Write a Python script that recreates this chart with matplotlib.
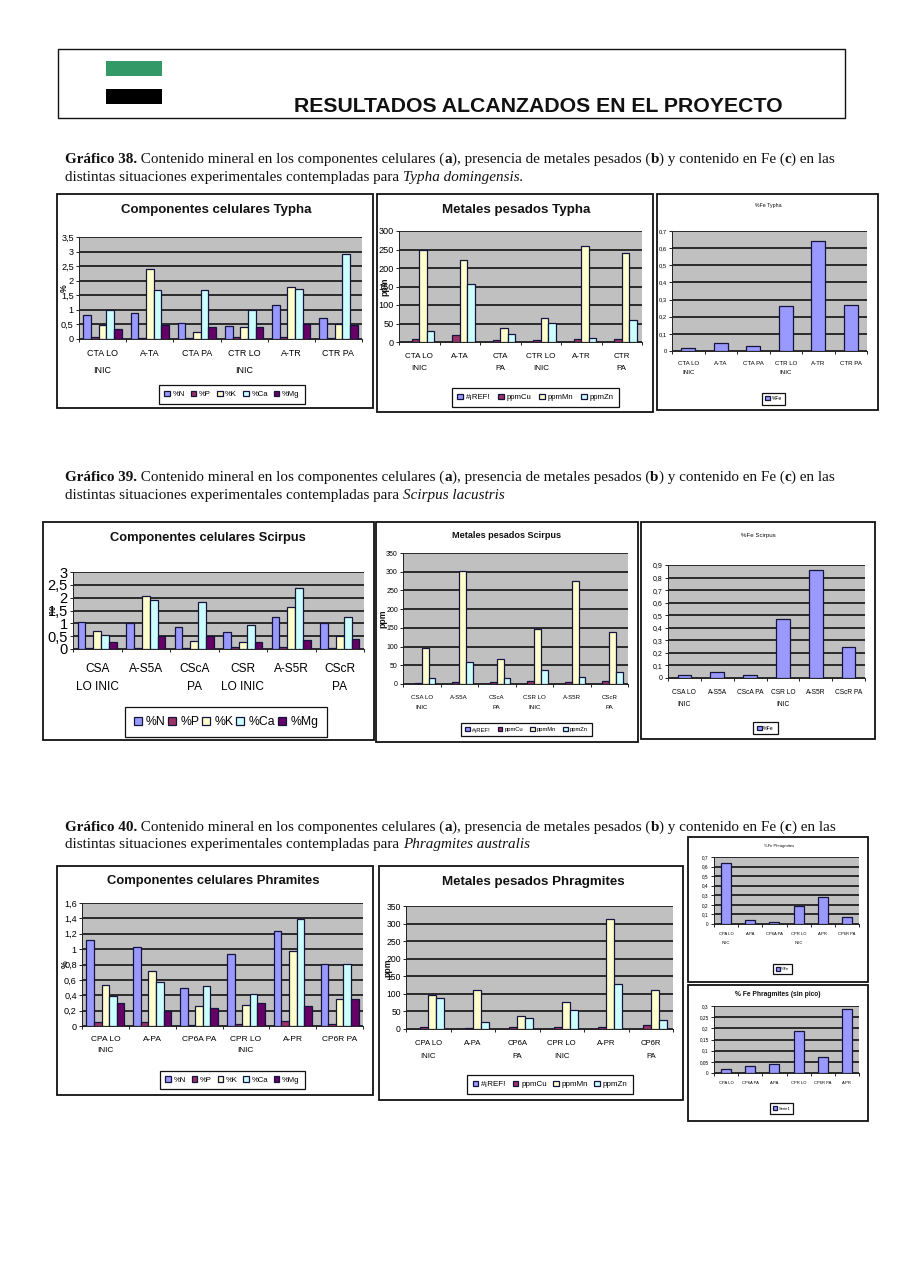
import matplotlib
matplotlib.use("Agg")
import matplotlib.pyplot as plt
import numpy as np
from matplotlib.patches import Rectangle
from matplotlib.ticker import FuncFormatter, MultipleLocator

W, H = 905, 1280
plt.rcParams['font.family'] = ['Liberation Sans', 'DejaVu Sans']

COMP_SERIES = ['%N', '%P', '%K', '%Ca', '%Mg']
METAL_SERIES = ['#¡REF!', 'ppmCu', 'ppmMn', 'ppmZn']
COLORS = {'%N': '#9999FF', '%P': '#993366', '%K': '#FFFFCC', '%Ca': '#CCFFFF', '%Mg': '#660066',
          '#¡REF!': '#9999FF', 'ppmCu': '#993366', 'ppmMn': '#FFFFCC', 'ppmZn': '#CCFFFF',
          '%Fe': '#9999FF', 'Serie1': '#9999FF'}

# Typha
typha_cats_a = ['CTA LO\nINIC', 'A-TA', 'CTA PA', 'CTR LO\nINIC', 'A-TR', 'CTR PA']
typha_cats_b = ['CTA LO\nINIC', 'A-TA', 'CTA\nPA', 'CTR LO\nINIC', 'A-TR', 'CTR\nPA']
typha_comp = [[.82, .90, .55, .43, 1.15, .73],
              [.08, .05, .05, .08, .08, .05],
              [.48, 2.40, .23, .40, 1.80, .50],
              [1.00, 1.67, 1.67, 1.00, 1.72, 2.93],
              [.35, .48, .40, .40, .50, .48]]
typha_metal = [[0, 0, 0, 0, 0, 0],
               [9, 18, 6, 6, 9, 9],
               [250, 222, 37, 66, 260, 241],
               [31, 158, 22, 52, 12, 60]]
typha_fe = [[.015, .048, .027, .26, .64, .27]]

# Scirpus
scirpus_cats_a = ['CSA\nLO INIC', 'A-S5A', 'CScA\nPA', 'CSR\nLO INIC', 'A-S5R', 'CScR\nPA']
scirpus_cats_b = ['CSA LO\nINIC', 'A-S5A', 'CScA\nPA', 'CSR LO\nINIC', 'A-S5R', 'CScR\nPA']
scirpus_cats_c = ['CSA LO\nINIC', 'A-S5A', 'CScA PA', 'CSR LO\nINIC', 'A-S5R', 'CScR PA']
scirpus_comp = [[1.07, 1.00, .85, .67, 1.23, 1.00],
                [.05, .05, .05, .08, .08, .05],
                [.72, 2.08, .32, .28, 1.62, .50],
                [.53, 1.90, 1.82, .92, 2.38, 1.23],
                [.28, .50, .50, .28, .37, .40]]
scirpus_metal = [[0, 0, 0, 0, 0, 0],
                 [3, 6, 6, 9, 6, 9],
                 [95, 302, 68, 147, 274, 138],
                 [16, 59, 16, 37, 19, 31]]
scirpus_fe = [[.02, .05, .02, .47, .86, .25]]

# Phragmites
phrag_cats_a = ['CPA LO\nINIC', 'A-PA', 'CP6A PA', 'CPR LO\nINIC', 'A-PR', 'CP6R PA']
phrag_cats_b = ['CPA LO\nINIC', 'A-PA', 'CP6A\nPA', 'CPR LO\nINIC', 'A-PR', 'CP6R\nPA']
phrag_cats_d = ['CPA LO', 'CP6A PA', 'A-PA', 'CPR LO', 'CP6R PA', 'A-PR']
phrag_comp = [[1.12, 1.03, .50, .94, 1.24, .81],
              [.05, .05, .015, .03, .06, .03],
              [.53, .72, .26, .27, .97, .35],
              [.39, .57, .52, .42, 1.39, .81],
              [.30, .20, .24, .30, .26, .35]]
phrag_metal = [[0, 0, 0, 0, 0, 0],
               [7, 4, 7, 7, 7, 10],
               [98, 110, 36, 78, 314, 110],
               [88, 20, 30, 55, 127, 27]]
phrag_fe = [[.64, .04, .025, .19, .28, .07]]
phrag_fe_nopeak = [[.02, .03, .04, .19, .07, .285]]

PANELS = [
    dict(box=(57, 194, 373, 408), plot=(79, 237, 362, 339), ymax=3.5, step=.5, cats=typha_cats_a, vals=typha_comp, series=COMP_SERIES,
         title='Componentes celulares Typha', tc=(216, 210), tfs=9.5, bold=True, tick=6.6, cat=6.4, ls=2.2, pad=7.0, leg=(159, 386, 305, 403), lfs=5.6, hp=5.5, ylab='%', ylx=64, width=.81),
    dict(box=(377, 194, 653, 412), plot=(399, 231, 642, 342), ymax=300, step=50, cats=typha_cats_b, vals=typha_metal, series=METAL_SERIES,
         title='Metales pesados Typha', tc=(516, 210), tfs=9.6, bold=True, tick=6.6, cat=5.8, ls=2.0, pad=8.0, leg=(452, 389, 619, 406), lfs=5.6, hp=5.5, ylab='ppm', ylx=385, width=.73),
    dict(box=(657, 194, 878, 410), plot=(672, 231, 867, 351), ymax=.7, step=.1, cats=typha_cats_a, vals=typha_fe, series=['%Fe'],
         title='%Fe Typha', tc=(768, 206), tfs=3.8, bold=False, tick=4.2, cat=4.4, ls=2.1, pad=7.2, leg=(759, 391, 788, 406), lfs=3.6, hp=4.5, ylab=None, ylx=0, width=.42),
    dict(box=(43, 522, 374, 740), plot=(73, 572, 364, 649), ymax=3, step=.5, cats=scirpus_cats_a, vals=scirpus_comp, series=COMP_SERIES,
         title='Componentes celulares Scirpus', tc=(208, 538), tfs=9.3, bold=True, tick=10.5, cat=8.6, ls=1.63, pad=10.0, leg=(125, 710, 327, 734), lfs=8.8, hp=8, ylab='%', ylx=53, width=.81),
    dict(box=(376, 522, 638, 742), plot=(403, 553, 628, 684), ymax=350, step=50, cats=scirpus_cats_b, vals=scirpus_metal, series=METAL_SERIES,
         title='Metales pesados Scirpus', tc=(507, 535), tfs=6.6, bold=True, tick=5.0, cat=4.4, ls=2.1, pad=8.0, leg=(461, 722, 592, 737), lfs=4.2, hp=4.5, ylab='ppm', ylx=383, width=.73),
    dict(box=(641, 522, 875, 739), plot=(668, 565, 865, 678), ymax=.9, step=.1, cats=scirpus_cats_c, vals=scirpus_fe, series=['%Fe'],
         title='%Fe Scirpus', tc=(758, 535), tfs=4.4, bold=False, tick=5.0, cat=4.8, ls=1.9, pad=8.0, leg=(752, 721, 779, 735), lfs=3.8, hp=4.5, ylab=None, ylx=0, width=.42),
    dict(box=(57, 866, 373, 1095), plot=(82, 903, 363, 1026), ymax=1.6, step=.2, cats=phrag_cats_a, vals=phrag_comp, series=COMP_SERIES,
         title='Componentes celulares Phramites', tc=(213, 881), tfs=9.4, bold=True, tick=6.6, cat=6.0, ls=1.9, pad=7.2, leg=(160, 1072, 305, 1088), lfs=5.6, hp=5.5, ylab='%', ylx=65, width=.81),
    dict(box=(379, 866, 683, 1100), plot=(406, 906, 673, 1029), ymax=350, step=50, cats=phrag_cats_b, vals=phrag_metal, series=METAL_SERIES,
         title='Metales pesados Phragmites', tc=(533, 882), tfs=9.6, bold=True, tick=6.2, cat=5.6, ls=2.1, pad=8.0, leg=(467, 1076, 633, 1093), lfs=5.8, hp=5.5, ylab='ppm', ylx=388, width=.73),
    dict(box=(688, 837, 868, 982), plot=(714, 857, 859, 924), ymax=.7, step=.1, cats=phrag_cats_a, vals=phrag_fe, series=['%Fe'],
         title='%Fe Phragmites', tc=(779, 846), tfs=3.0, bold=False, tick=3.4, cat=3.0, ls=2.4, pad=6.0, leg=(771, 962, 794, 976), lfs=3.0, hp=4, ylab=None, ylx=0, width=.42),
    dict(box=(688, 985, 868, 1121), plot=(714, 1006, 859, 1073), ymax=.3, step=.05, cats=phrag_cats_d, vals=phrag_fe_nopeak, series=['Serie1'],
         title='% Fe Phragmites (sin pico)', tc=(778, 995), tfs=4.8, bold=True, tick=3.4, cat=3.0, ls=1.9, pad=6.0, leg=(768, 1101, 795, 1116), lfs=3.0, hp=4, ylab=None, ylx=0, width=.42),
]

CAPTION_HEAD = [(' Contenido mineral en los componentes celulares (', 'normal', 'normal'), ('a', 'bold', 'normal'),
                ('), presencia de metales pesados (', 'normal', 'normal'), ('b', 'bold', 'normal'),
                (') y contenido en Fe (', 'normal', 'normal'), ('c', 'bold', 'normal'), (') en las', 'normal', 'normal')]
CAPTION_TAIL = 'distintas situaciones experimentales contempladas para '
CAPTIONS = [
    (163, [('Gráfico 38.', 'bold', 'normal')] + CAPTION_HEAD),
    (181, [(CAPTION_TAIL, 'normal', 'normal'), ('Typha domingensis.', 'normal', 'italic')]),
    (481, [('Gráfico 39.', 'bold', 'normal')] + CAPTION_HEAD),
    (499, [(CAPTION_TAIL, 'normal', 'normal'), ('Scirpus lacustris', 'normal', 'italic')]),
    (831, [('Gráfico 40.', 'bold', 'normal')] + CAPTION_HEAD),
    (848, [(CAPTION_TAIL, 'normal', 'normal'), ('Phragmites australis', 'normal', 'italic')]),
]
CAPTION_FS = 10.88

fig = plt.figure(figsize=(W / 100, H / 100), dpi=100, facecolor='white')
page = fig.add_axes([0, 0, 1, 1], zorder=0)
page.set_xlim(0, W)
page.set_ylim(H, 0)
page.axis('off')


def comma(v, _pos=None):
    return f'{round(v, 3):g}'.replace('.', ',')


def draw_panel(p):
    x0, y0, x1, y1 = p['box']
    page.add_patch(Rectangle((x0, y0), x1 - x0, y1 - y0, fc='white', ec='#111111', lw=1.3))
    px0, py0, px1, py1 = p['plot']
    pw, ph = px1 - px0, py1 - py0
    ax = fig.add_axes([px0 / W, 1 - py1 / H, pw / W, ph / H], zorder=2, facecolor='#C0C0C0')
    n_cat = len(p['cats'])
    n_ser = len(p['series'])
    bw = p['width'] / n_ser
    xpos = np.arange(n_cat)
    for i, (name, vals) in enumerate(zip(p['series'], p['vals'])):
        off = (i - (n_ser - 1) / 2) * bw
        ax.bar(xpos + off, vals, bw, color=COLORS[name], edgecolor='#14143c', linewidth=.9, zorder=3, label=name)
    ax.set_xlim(-.5, n_cat - .5)
    ax.set_ylim(0, p['ymax'])
    ax.yaxis.set_major_locator(MultipleLocator(p['step']))
    ax.yaxis.set_major_formatter(FuncFormatter(comma))
    ax.grid(axis='y', color='#111111', lw=1.2, zorder=1)
    ax.set_axisbelow(True)
    ax.set_xticks(np.arange(n_cat + 1) - .5)
    ax.set_xticklabels([])
    ax.set_xticks(xpos, minor=True)
    ax.set_xticklabels(p['cats'], minor=True, fontsize=p['cat'], linespacing=p['ls'], va='top')
    ax.tick_params(axis='x', which='minor', length=0, pad=p['pad'])
    ax.tick_params(axis='x', which='major', length=2.2, width=.7, color='#222222')
    ax.tick_params(axis='y', length=2.2, width=.7, labelsize=p['tick'], pad=1.5, color='#222222')
    for s in ('top', 'right'):
        ax.spines[s].set_visible(False)
    for s in ('left', 'bottom'):
        ax.spines[s].set_linewidth(.7)
        ax.spines[s].set_color('#222222')
    tx, ty = p['tc']
    ax.set_title(p['title'], fontsize=p['tfs'], fontweight='bold' if p['bold'] else 'normal',
                 x=(tx - px0) / pw, y=(py1 - ty) / ph, va='center', ha='center', pad=0, color='#111111')
    if p['ylab']:
        ax.set_ylabel(p['ylab'], fontsize=6.2, fontweight='bold', color='#111111', va='center')
        ax.yaxis.set_label_coords((p['ylx'] - px0) / pw, .5)
    lx0, ly0, lx1, ly1 = p['leg']
    handles, labels = ax.get_legend_handles_labels()
    lfs = p['lfs']
    hsize = p['hp'] / (lfs * 100 / 72)
    leg = fig.legend(handles, labels, loc='center', mode='expand' if n_ser > 1 else None,
                     bbox_to_anchor=(lx0 / W, 1 - ly1 / H, (lx1 - lx0) / W, (ly1 - ly0) / H),
                     ncols=n_ser, fontsize=lfs, frameon=True, fancybox=False, edgecolor='#111111', framealpha=1,
                     handlelength=hsize, handleheight=hsize, handletextpad=.35, columnspacing=.4,
                     borderaxespad=0, borderpad=.7)
    leg.get_frame().set_linewidth(.9)
    leg.set_zorder(4)


def text_advance(txt, weight, style, renderer):
    kw = dict(family=['Liberation Serif'], fontsize=CAPTION_FS, fontweight=weight, fontstyle=style, alpha=0)
    a = page.text(0, 0, '.' + txt + '.', **kw)
    b = page.text(0, 0, '..', **kw)
    w = a.get_window_extent(renderer).width - b.get_window_extent(renderer).width
    a.remove()
    b.remove()
    return w


def draw_caption(y, pieces, renderer):
    x = 65
    for txt, weight, style in pieces:
        page.text(x, y, txt, family=['Liberation Serif'], fontsize=CAPTION_FS, fontweight=weight, fontstyle=style,
                  color='#111111', va='baseline', ha='left')
        x += text_advance(txt, weight, style, renderer)


# header
page.add_patch(Rectangle((58, 49), 787, 69, fc='white', ec='#111111', lw=1.0))
page.add_patch(Rectangle((106, 61), 56, 14.5, fc='#339966', ec='none'))
page.add_patch(Rectangle((106, 89), 56, 15, fc='#000000', ec='none'))
page.text(294, 112, 'RESULTADOS ALCANZADOS EN EL PROYECTO', fontsize=15.3, fontweight='bold', color='#111111', va='baseline', ha='left')

renderer = fig.canvas.get_renderer()
for y, pieces in CAPTIONS:
    draw_caption(y, pieces, renderer)

for p in PANELS:
    draw_panel(p)

fig.savefig('out.png', dpi=100, facecolor='white')
